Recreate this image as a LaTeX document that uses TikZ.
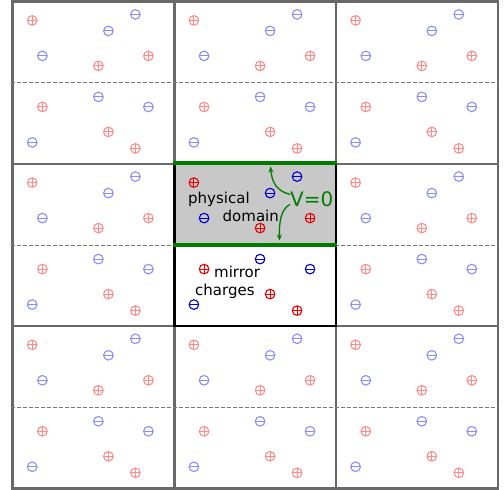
\documentclass[tikz,border=0pt]{standalone}
\usepackage{fontspec}
\setmainfont{DejaVu Sans}
\usepackage{xcolor}
\usetikzlibrary{arrows.meta}

\definecolor{tilegray}{RGB}{105,105,105}
\definecolor{domaingray}{RGB}{200,200,200}
\definecolor{wallgreen}{RGB}{0,125,0}
\definecolor{lred}{RGB}{255,140,140}
\definecolor{lblue}{RGB}{140,140,255}
\definecolor{dred}{RGB}{235,0,0}
\definecolor{dblue}{RGB}{0,0,210}

\tikzset{
  tilebox/.style={draw=tilegray, line width=2.6pt, minimum width=161.7pt, minimum height=162.2pt, inner sep=0pt},
  domainbox/.style={tilebox, draw=black, path picture={\fill[domaingray] (path picture bounding box.north west) rectangle (path picture bounding box.east);}},
  midline/.style={tilegray!90, line width=0.9pt, dash pattern=on 4pt off 2pt},
  qbase/.style={circle, line width=1.1pt, minimum size=9.6pt, inner sep=0pt},
  plusq/.style={qbase, draw=qplus, path picture={\draw[qplus, line width=1pt] (path picture bounding box.north) -- (path picture bounding box.south) (path picture bounding box.west) -- (path picture bounding box.east);}},
  minusq/.style={qbase, draw=qminus, path picture={\draw[qminus, line width=1pt] (path picture bounding box.west) -- (path picture bounding box.east);}},
  lbl/.style={font=\fontsize{15}{18}\selectfont, inner sep=0pt, anchor=base west},
  wall/.style={wallgreen, line width=4pt},
  varrow/.style={wallgreen, line width=1.3pt, -{Stealth[length=6pt,width=5pt]}}
}

\def\chargelist{20.8/20/plusq, 124/14/minusq, 97/30.5/minusq, 31/55.5/minusq, 87/65.5/plusq, 137/55.5/plusq,
  20.8/142/minusq, 124/148/plusq, 97/131.5/plusq, 31/106.5/plusq, 87/96.5/minusq, 137/106.5/minusq}

\begin{document}
\begin{tikzpicture}[x=1pt,y=-1pt]
\useasboundingbox (0,0) rectangle (504,490);

\foreach \i/\j/\pc/\nc/\ts in {0/0/lred/lblue/tilebox, 1/0/lred/lblue/tilebox, 2/0/lred/lblue/tilebox,
    0/1/lred/lblue/tilebox, 2/1/lred/lblue/tilebox, 0/2/lred/lblue/tilebox, 1/2/lred/lblue/tilebox,
    2/2/lred/lblue/tilebox, 1/1/dred/dblue/domainbox}{
  \colorlet{qplus}{\pc}\colorlet{qminus}{\nc}
  \node[\ts] (tile-\i-\j) at (12.7+161.7*\i+80.85, 1.7+162.2*\j+81.1) {};
  \draw[midline] (tile-\i-\j.west) -- (tile-\i-\j.east);
  \begin{scope}[shift={(tile-\i-\j.north west)}]
    \foreach \cx/\cy/\s [count=\k] in \chargelist
      \node[\s] (q-\i-\j-\k) at (\cx,\cy) {};
  \end{scope}
}

\draw[wall] (tile-1-1.north west) -- (tile-1-1.north east);
\draw[wall] (tile-1-1.west) -- (tile-1-1.east);

\node[lbl] (physical) at (188,203) {physical};
\node[lbl] (domain) at (222.5,221) {domain};
\node[lbl] (mirror) at (214,277.7) {mirror};
\node[lbl] (charges) at (195,295.7) {charges};
\node[lbl, font=\fontsize{20}{24}\selectfont, text=wallgreen] (vzero) at (290,206.7) {V=0};

\coordinate (uptip) at (270.5,166.5);
\coordinate (downtip) at (279.5,240.5);
\draw[varrow] ([yshift=5pt]vzero.west) .. controls (277,191) and (272,183) .. (uptip);
\draw[varrow] ([yshift=-5pt]vzero.west) .. controls (281,209) and (279,222) .. (downtip);
\end{tikzpicture}
\end{document}
